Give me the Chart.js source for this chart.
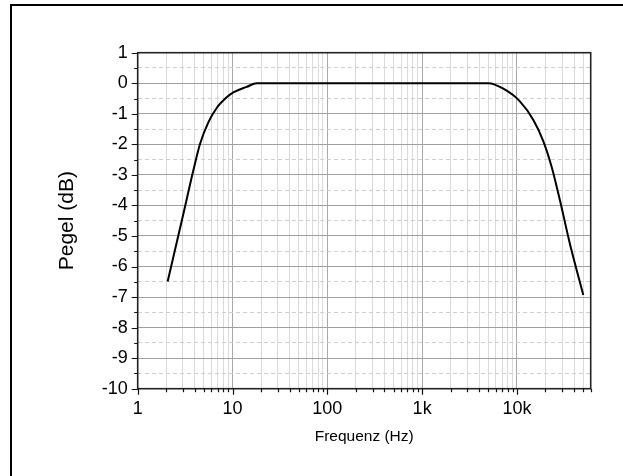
<!DOCTYPE html>
<html><head><meta charset="utf-8">
<script src="https://cdn.jsdelivr.net/npm/chart.js@4/dist/chart.umd.min.js"></script>
<style>html,body{margin:0;padding:0;background:#fff;overflow:hidden}#wrap{width:623px;height:476px;position:relative}</style>
</head><body><div id="wrap"><canvas id="c" width="623" height="476"></canvas></div>
<script>
// ---- data ----
const freqHz  = [2.07, 3.03, 3.86, 4.54, 5.56, 6.81, 8.69, 10.2, 14.1, 18, 100, 1000, 5000, 7190, 10800, 14900, 19000, 23300, 28500, 36300, 50100];
const levelDb = [-6.49, -4.28, -2.86, -1.99, -1.28, -0.81, -0.46, -0.30, -0.12, 0, 0, 0, 0, -0.18, -0.6, -1.2, -1.9, -2.75, -3.85, -5.27, -6.93];
const xTickValues = [1,2,3,4,5,6,7,8,9,10,20,30,40,50,60,70,80,90,100,200,300,400,500,600,700,800,900,1000,2000,3000,4000,5000,6000,7000,8000,9000,10000,20000,30000,40000,50000,60000];
const xMajorLabels = {1:'1', 10:'10', 100:'100', 1000:'1k', 10000:'10k'};
const yTickValues = [-10,-9.5,-9,-8.5,-8,-7.5,-7,-6.5,-6,-5.5,-5,-4.5,-4,-3.5,-3,-2.5,-2,-1.5,-1,-0.5,0,0.5,1];
const xRange = [1, 60000];
const yRange = [-10, 1];
const xTitle = 'Frequenz (Hz)';
const yTitle = 'Pegel (dB)';

const FONT = "'Liberation Sans', Arial, sans-serif";
const isDecade = v => Math.abs(Math.log10(v) - Math.round(Math.log10(v))) < 1e-9;
const isInt = v => Math.abs(v - Math.round(v)) < 1e-9;

const decorPlugin = {
  id: 'decor',
  beforeDraw(chart) {
    const c = chart.ctx;
    c.save();
    c.fillStyle = '#fff';
    c.fillRect(0, 0, chart.width, chart.height);
    c.strokeStyle = '#000';
    c.lineWidth = 2;
    c.beginPath();
    c.moveTo(11, chart.height);
    c.lineTo(11, 5);
    c.lineTo(chart.width, 5);
    c.stroke();
    c.restore();
  },
  afterDraw(chart) {
    const c = chart.ctx, a = chart.chartArea;
    const xs = chart.scales.x, ys = chart.scales.y;
    c.save();
    c.strokeStyle = '#222';
    c.lineWidth = 1.6;
    c.strokeRect(a.left, a.top, a.right - a.left, a.bottom - a.top);
    c.lineWidth = 1.2;
    c.strokeStyle = '#111';
    c.beginPath();
    xTickValues.forEach(v => {
      const px = Math.round(xs.getPixelForValue(v)) + 0.5;
      const len = isDecade(v) ? 6 : 3.5;
      c.moveTo(px, a.bottom);
      c.lineTo(px, a.bottom + len);
    });
    yTickValues.forEach(v => {
      const py = Math.round(ys.getPixelForValue(v)) + 0.5;
      const len = isInt(v) ? 6 : 3.5;
      c.moveTo(a.left, py);
      c.lineTo(a.left - len, py);
    });
    c.stroke();
    c.restore();
  }
};

new Chart(document.getElementById('c'), {
  type: 'line',
  data: {
    datasets: [{
      data: freqHz.map((f, i) => ({x: f, y: levelDb[i]})),
      borderColor: '#000',
      borderWidth: 2,
      borderJoinStyle: 'round',
      pointRadius: 0,
      fill: false,
      cubicInterpolationMode: 'monotone'
    }]
  },
  options: {
    responsive: false,
    animation: false,
    devicePixelRatio: 1,
    layout: {padding: {top: 52.7, right: 32.3, left: 0, bottom: 0}},
    plugins: {legend: {display: false}, tooltip: {enabled: false}},
    scales: {
      x: {
        type: 'logarithmic',
        min: xRange[0], max: xRange[1],
        afterBuildTicks: s => { s.ticks = xTickValues.map(v => ({value: v})); },
        afterFit: s => { s.height = 476 - 388.7; },
        ticks: {
          autoSkip: false, maxRotation: 0, padding: 4,
          color: '#000',
          font: {family: FONT, size: 18},
          callback: v => xMajorLabels[v] || ''
        },
        grid: {
          color: ctx => ctx.tick && isDecade(ctx.tick.value) ? '#a8a8a8' : '#dadada',
          lineWidth: 1,
          drawTicks: true, tickLength: 6, tickColor: 'rgba(0,0,0,0)'
        },
        border: {display: false},
        title: {display: true, text: xTitle, color: '#000', font: {family: FONT, size: 15.5}, padding: {top: 0, bottom: 29.7}}
      },
      y: {
        type: 'linear',
        min: yRange[0], max: yRange[1],
        afterBuildTicks: s => { s.ticks = yTickValues.map(v => ({value: v})); },
        afterFit: s => { s.width = 137.7; },
        ticks: {
          autoSkip: false, padding: 4,
          color: '#000',
          font: {family: FONT, size: 18},
          callback: v => isInt(v) ? String(Math.round(v)) : ''
        },
        grid: {
          color: ctx => ctx.tick && isInt(ctx.tick.value) ? '#a0a0a0' : '#cfcfcf',
          lineWidth: 1,
          drawTicks: true, tickLength: 6, tickColor: 'rgba(0,0,0,0)'
        },
        border: {display: false, dash: ctx => ctx.tick && !isInt(ctx.tick.value) ? [4, 3] : []},
        title: {display: true, text: yTitle, color: '#000', font: {family: FONT, size: 21}, padding: {top: 55, bottom: 0}}
      }
    }
  },
  plugins: [decorPlugin]
});
</script>
</body></html>
